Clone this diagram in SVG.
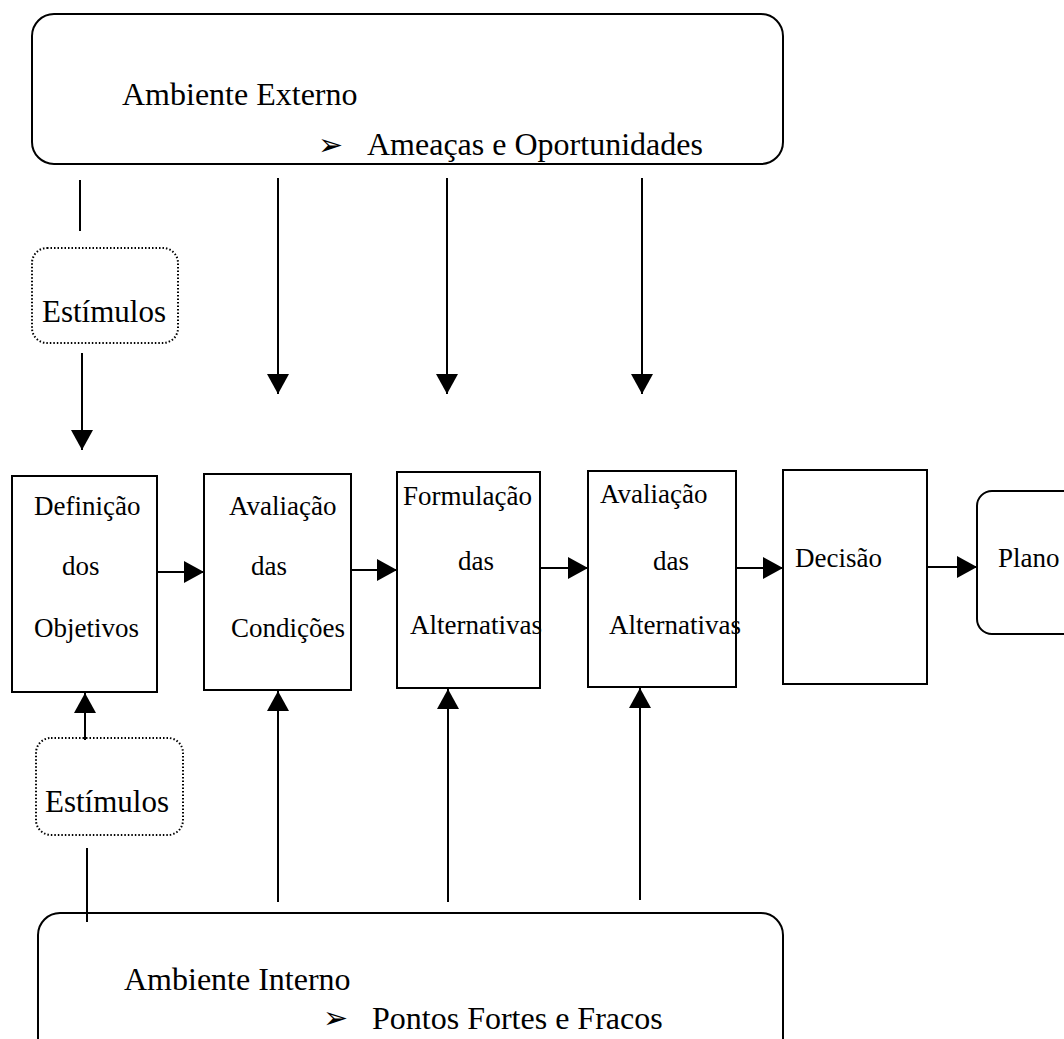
<svg xmlns="http://www.w3.org/2000/svg" width="1064" height="1039" viewBox="0 0 1064 1039">
<defs>
<marker id="ah" markerUnits="userSpaceOnUse" markerWidth="20" markerHeight="22" refX="20" refY="11" orient="auto">
<path d="M0,0 L20,11 L0,22 z" fill="#000"/>
</marker>
<style>
.box{fill:#fff;stroke:#000;stroke-width:2}
.dot{fill:#fff;stroke:#000;stroke-width:2;stroke-dasharray:1.5 2}
.ln{stroke:#000;stroke-width:2;fill:none}
.arr{stroke:#000;stroke-width:2;fill:none;marker-end:url(#ah)}
.t{font-family:'Liberation Serif','Times New Roman',serif;font-size:27px;fill:#000}
.tb{font-family:'Liberation Serif','Times New Roman',serif;font-size:32px;fill:#000}
.ts{font-family:'Liberation Serif','Times New Roman',serif;font-size:31px;fill:#000}
.bul{font-family:'DejaVu Sans',sans-serif;font-size:30px;fill:#000}
</style>
</defs>
<rect width="1064" height="1039" fill="#fff"/>
<g id="ambiente-externo">
<rect class="box" x="32" y="14" width="751" height="150" rx="22"/>
<text class="tb" x="122" y="105">Ambiente Externo</text>
<text class="bul" x="318" y="155">➢</text>
<text class="tb" x="367" y="155">Ameaças e Oportunidades</text>
</g>
<g id="estimulos-1">
<rect class="dot" x="32" y="248" width="146" height="95" rx="15"/>
<text class="ts" x="42" y="322">Estímulos</text>
</g>
<g id="definicao">
<rect class="box" x="12" y="476" width="145" height="216"/>
<text class="t" x="34" y="515">Definição</text>
<text class="t" x="62" y="575">dos</text>
<text class="t" x="34" y="637">Objetivos</text>
</g>
<g id="avaliacao-condicoes">
<rect class="box" x="204" y="474" width="147" height="216"/>
<text class="t" x="229" y="515">Avaliação</text>
<text class="t" x="251" y="575">das</text>
<text class="t" x="231" y="637">Condições</text>
</g>
<g id="formulacao">
<rect class="box" x="397" y="472" width="143" height="216"/>
<text class="t" x="403" y="505">Formulação</text>
<text class="t" x="458" y="570">das</text>
<text class="t" x="410" y="634">Alternativas</text>
</g>
<g id="avaliacao-alternativas">
<rect class="box" x="588" y="471" width="148" height="216"/>
<text class="t" x="600" y="503">Avaliação</text>
<text class="t" x="653" y="570">das</text>
<text class="t" x="609" y="634">Alternativas</text>
</g>
<g id="decisao">
<rect class="box" x="783" y="470" width="144" height="214"/>
<text class="t" x="795" y="567">Decisão</text>
</g>
<g id="plano">
<rect class="box" x="977" y="491" width="110" height="143" rx="15"/>
<text class="t" x="998" y="567">Plano</text>
</g>
<g id="estimulos-2">
<rect class="dot" x="36" y="738" width="147" height="97" rx="15"/>
<text class="ts" x="45" y="812">Estímulos</text>
</g>
<g id="ambiente-interno">
<rect class="box" x="38" y="913" width="745" height="160" rx="22"/>
<text class="tb" x="124" y="990">Ambiente Interno</text>
<text class="bul" x="323" y="1028">➢</text>
<text class="tb" x="372" y="1029">Pontos Fortes e Fracos</text>
</g>
<g id="connectors">
<line class="ln" x1="80" y1="180" x2="80" y2="231"/>
<line class="arr" x1="278" y1="178" x2="278" y2="394"/>
<line class="arr" x1="447" y1="178" x2="447" y2="394"/>
<line class="arr" x1="642" y1="178" x2="642" y2="394"/>
<line class="arr" x1="82" y1="353" x2="82" y2="450"/>
<line class="arr" x1="157" y1="572" x2="204" y2="572"/>
<line class="arr" x1="351" y1="570" x2="397" y2="570"/>
<line class="arr" x1="540" y1="568" x2="588" y2="568"/>
<line class="arr" x1="736" y1="568" x2="783" y2="568"/>
<line class="arr" x1="927" y1="567" x2="977" y2="567"/>
<line class="arr" x1="85" y1="740" x2="85" y2="693"/>
<line class="arr" x1="278" y1="902" x2="278" y2="691"/>
<line class="arr" x1="448" y1="902" x2="448" y2="689"/>
<line class="arr" x1="640" y1="900" x2="640" y2="688"/>
<line class="ln" x1="87" y1="848" x2="87" y2="922"/>
</g>
</svg>
